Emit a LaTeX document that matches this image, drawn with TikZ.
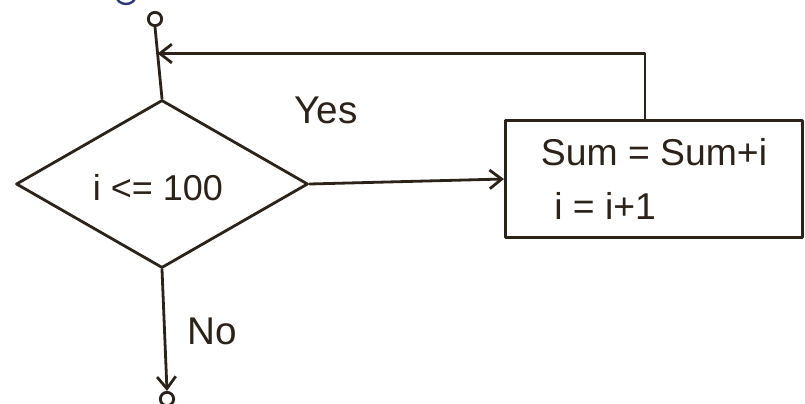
\documentclass[tikz,border=0pt]{standalone}
\usepackage{fontspec}
\setmainfont{Liberation Sans}
\usetikzlibrary{shapes.geometric,arrows.meta,calc}
\definecolor{ink}{HTML}{2B221A}
\definecolor{blueink}{HTML}{2E3A78}
\tikzset{
  stroke/.style={draw=ink, line width=2.1pt, line cap=round, line join=round},
  decision/.style={stroke, diamond, inner sep=0pt, minimum width=219pt, minimum height=126pt},
  process/.style={stroke, rectangle, inner sep=0pt, minimum width=223pt, minimum height=88pt},
  connector/.style={stroke, circle, inner sep=0pt, minimum size=10pt},
  flow/.style={stroke, -{Straight Barb[length=9pt,width=14pt,line width=2.1pt]}},
  lbl/.style={text=ink, font=\fontsize{29}{34}\selectfont}
}
\begin{document}
\begin{tikzpicture}[x=0.75pt,y=-0.75pt]
  \useasboundingbox (0,0) rectangle (805,403);
  \fill[white] (0,0) rectangle (805,403);

  % fragment of a connector from the previous page
  \draw[blueink, line width=1.8pt] (126,-5) ellipse [x radius=10, y radius=9];

  % entry connector and loop test
  \node[connector] (ctop) at (155,19) {};
  \node[decision] (dia) at (162,184) {};
  \node[text=ink, font=\fontsize{27}{32}\selectfont] (cond) at (158,188) {i <= 100};

  % loop body
  \node[process, text=ink, align=left, font=\fontsize{28}{41}\selectfont] (box) at (654,179)
    {Sum = Sum+i\\\hspace*{10pt}i = i+1};

  % exit connector
  \node[connector] (cbot) at (167,399) {};

  % connectors
  \coordinate (join) at ($(ctop.south)!0.37!(dia.north)$);
  \coordinate (loopx) at (645,48);
  \draw[stroke] (ctop.south) -- (dia.north);
  \draw[flow] (dia.east) -- (box.west);
  \draw[flow] (box.north -| loopx) |- (join);
  \draw[flow] (dia.south) -- (cbot.north);

  % branch labels
  \node[lbl] (yes) at (326,110) {Yes};
  \node[lbl] (no) at (212,331) {No};
\end{tikzpicture}
\end{document}
